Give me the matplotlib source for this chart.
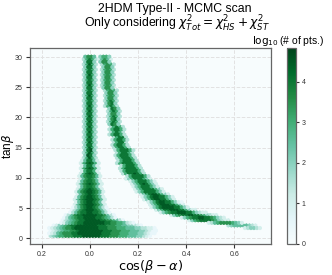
import numpy as np
import matplotlib
matplotlib.use("Agg")
import matplotlib.pyplot as plt

plt.rcParams['font.family'] = ['Liberation Sans', 'DejaVu Sans']
plt.rcParams['mathtext.fontset'] = 'dejavusans'

# tan(beta) of each hexagon row, from the top row down
tanb = [30.07, 29.64, 29.21, 28.78, 28.35, 27.92, 27.49, 27.06, 26.63, 26.20,
        25.77, 25.34, 24.91, 24.48, 24.05, 23.62, 23.19, 22.76, 22.33, 21.90,
        21.47, 21.04, 20.61, 20.18, 19.75, 19.32, 18.89, 18.46, 18.03, 17.60,
        17.17, 16.74, 16.31, 15.88, 15.45, 15.02, 14.59, 14.16, 13.73, 13.30,
        12.87, 12.44, 12.01, 11.58, 11.15, 10.72, 10.29, 9.86, 9.43, 9.00,
        8.57, 8.14, 7.71, 7.28, 6.85, 6.42, 5.99, 5.56, 5.13, 4.70,
        4.27, 3.84, 3.41, 2.98, 2.55, 2.12, 1.69, 1.26, 0.83, 0.40]

# central branch: middle cos(beta-alpha) of the row, and log10(count) in half units per cell
left_center = [0.0] * 63 + [0.018, 0.026, 0.037, 0.05, 0.052, 0.052, 0.047]
left_levels = [
    "5775", "36863", "4884", "36963", "4884", "36863", "4884", "36963", "4884", "36863",
    "4884", "36963", "4884", "36863", "4884", "36963", "4884", "36863", "4884", "36963",
    "4884", "36963", "4884", "36963", "4884", "36963", "4884", "36963", "4884", "36963",
    "4884", "36963", "4884", "36963", "4884", "36963", "4894", "36963", "4984", "36963",
    "258852", "2689862", "258852", "2689862", "268862", "2689862", "25788752", "2578752", "25788752", "257898752",
    "25788752", "257898752", "2578998752", "257898752", "2578998752", "25789998752", "2578998752", "25789998752", "135789987531", "1357899987531",
    "13578899887531", "13578899999887531", "135678899998876531",
    "134567889999988776531",
    "1245678899999998877665321",
    "124567889999999888777665544321",
    "123456778999999998887776665554433221",
    "123456677899999999888777666555443211",
    "123567778899999999888777666555443211",
    "3456677788899999988877766655544321",
]

# upper branch: same layout, ends before the lowest rows
right_center = [0.066, 0.067, 0.068, 0.069, 0.07, 0.071, 0.072, 0.073, 0.074, 0.076,
                0.077, 0.079, 0.08, 0.082, 0.083, 0.085, 0.087, 0.089, 0.09, 0.092,
                0.094, 0.096, 0.098, 0.101, 0.102, 0.104, 0.106, 0.108, 0.11, 0.113,
                0.116, 0.119, 0.122, 0.126, 0.13, 0.134, 0.138, 0.142, 0.146, 0.151,
                0.156, 0.162, 0.168, 0.174, 0.18, 0.187, 0.195, 0.205, 0.215, 0.224,
                0.233, 0.243, 0.253, 0.265, 0.278, 0.292, 0.307, 0.32, 0.335, 0.352,
                0.39, 0.43, 0.465, 0.5, 0.56, 0.63, 0.68]
right_levels = [
    "4664", "25752", "4774", "36763", "4774", "36763", "4774", "36763", "4774", "36763",
    "4774", "36763", "4774", "36763", "4774", "36763", "4774", "36863", "4784", "36863",
    "4874", "36863", "4774", "36863", "4784", "36863", "4874", "36863", "368863", "36863",
    "368863", "36883", "368863", "36883", "368863", "368863", "3688863", "368863", "3688863", "3688863",
    "3688863", "36888863", "3688863", "36888863", "36888863", "36889863", "36888863", "246888642", "246888642", "246898642",
    "246888642", "2468888642", "2468888642", "2468998642", "24689988642", "24689988642", "246899886421", "246899988642", "2468999988642", "24688999886422",
    "2467889998864322", "2467889988764322", "246788998876432", "24678888764322", "235677776542", "3455555432", "234432",
]

tanb_ticks = [0, 5, 10, 15, 20, 25, 30]
cos_ticks = [-0.2, 0.0, 0.2, 0.4, 0.6]
cos_labels = ["0.2", "0.0", "0.2", "0.4", "0.6"]
cbar_ticks = [0, 1, 2, 3, 4]

cell = 0.0125
xs, ys, zs = [], [], []
for t, c, lev in zip(tanb, left_center, left_levels):
    first = c - (len(lev) - 1) / 2 * cell
    for i, d in enumerate(lev):
        xs.append(first + i * cell); ys.append(t); zs.append(int(d) * 0.5)
for t, c, lev in zip(tanb, right_center, right_levels):
    first = c - (len(lev) - 1) / 2 * cell
    for i, d in enumerate(lev):
        xs.append(first + i * cell); ys.append(t); zs.append(int(d) * 0.5)

fig = plt.figure(figsize=(3.32, 2.75), dpi=100)
ax = fig.add_axes([29.5 / 332, 1 - 244 / 275, 241.5 / 332, 196 / 275])
cax = fig.add_axes([286.5 / 332, 1 - 244 / 275, 9.5 / 332, 196 / 275])

cmap = plt.get_cmap("BuGn")
ax.set_facecolor(cmap(0.0))
ax.set_axisbelow(True)
ax.grid(True, ls="--", lw=0.7, color="#e2e2e2")

hb = ax.hexbin(xs, ys, C=zs, reduce_C_function=np.max, gridsize=(80, 37),
               extent=(-0.25, 0.75, -0.46, 31.36), cmap=cmap, vmin=0, vmax=4.83,
               linewidths=0.6, edgecolors="face")
ax.set_xlim(-0.25, 0.752)
ax.set_ylim(-0.95, 31.5)
ax.set_xticks(cos_ticks)
ax.set_xticklabels(cos_labels)
ax.set_yticks(tanb_ticks)
ax.tick_params(labelsize=5, length=3, width=0.8, color="#333333", pad=2, labelcolor="#333333")
for s in ax.spines.values():
    s.set_color("#666666")
    s.set_linewidth(0.9)
ax.set_xlabel(r"$\cos(\beta-\alpha)$", fontsize=9.3, labelpad=0)
ax.set_ylabel(r"tan$\beta$", fontsize=8.5)
ax.yaxis.set_label_coords(-0.055, 0.5)

fig.text(175 / 332, 1 - 9 / 275, "2HDM Type-II - MCMC scan", ha="center", va="center", fontsize=8.8)
fig.text(177 / 332, 1 - 24 / 275, r"Only considering $\chi^2_{Tot} = \chi^2_{HS} + \chi^2_{ST}$",
         ha="center", va="center", fontsize=8.8)

cb = fig.colorbar(hb, cax=cax)
cb.set_ticks(cbar_ticks)
cb.ax.tick_params(labelsize=5, length=2, width=0.8, color="#333333", pad=2, labelcolor="#333333")
cb.outline.set_edgecolor("#666666")
cb.outline.set_linewidth(0.9)
cax.set_title(r"$\log_{10}$(# of pts.)", fontsize=7.5, pad=2.5, x=0.2)

fig.savefig("out.png", dpi=100)
